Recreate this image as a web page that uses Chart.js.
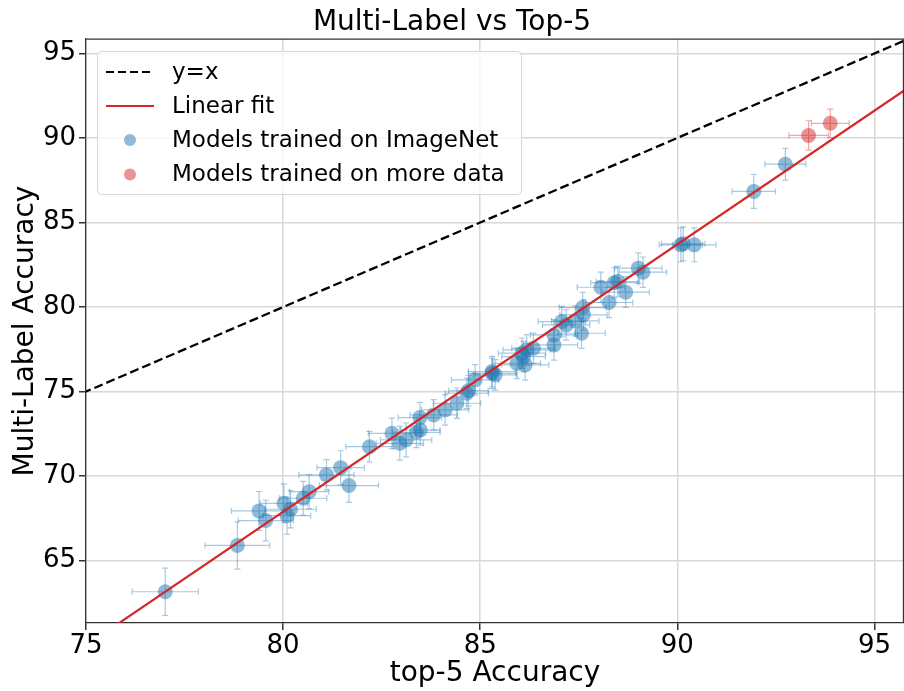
<!DOCTYPE html>
<html>
<head>
<meta charset="utf-8">
<title>Multi-Label vs Top-5</title>
<script src="https://cdn.jsdelivr.net/npm/chart.js@4.4.1/dist/chart.umd.min.js"></script>
<style>
  html, body { margin: 0; padding: 0; background: #fff; }
  #wrap { width: 904px; height: 691px; }
</style>
</head>
<body>
<div id="wrap"><canvas id="myChart"></canvas></div>
<script>
/* data */
const imagenetTop5 = [77.01, 78.84, 79.39, 79.56, 80.02, 80.19, 80.10, 80.51, 80.66, 81.10,
    81.46, 81.67, 82.19, 82.76, 82.96, 83.12, 83.38, 83.48, 83.47, 83.82,
    84.11, 84.41, 84.66, 84.70, 84.87, 85.30, 85.38, 85.30, 85.93, 86.06,
    86.10, 86.14, 86.18, 86.35, 86.87, 86.87, 87.07, 87.18, 87.41, 87.57,
    87.60, 87.62, 88.06, 88.27, 88.40, 88.49, 88.69, 89.01, 89.13, 90.09,
    90.15, 90.43, 91.94, 92.74];
const imagenetMulti = [63.16, 65.90, 67.94, 67.37, 68.39, 68.04, 67.66, 68.69, 69.08, 70.07,
    70.50, 69.44, 71.74, 72.53, 71.94, 72.14, 72.59, 72.73, 73.46, 73.62,
    73.92, 74.31, 74.90, 75.05, 75.69, 76.08, 75.99, 76.18, 76.67, 77.27,
    77.07, 76.58, 77.47, 77.56, 77.76, 78.35, 79.14, 78.94, 79.18, 78.45,
    79.97, 79.54, 81.17, 80.27, 81.44, 81.51, 80.88, 82.30, 82.06, 83.68,
    83.74, 83.68, 86.84, 88.45];
const imagenetTop5Err = [0.84, 0.82, 0.70, 0.70, 0.60, 0.65, 0.60, 0.60, 0.50, 0.70,
    0.60, 0.75, 0.60, 0.60, 0.60, 0.65, 0.60, 0.50, 0.55, 0.60,
    0.60, 0.60, 0.55, 0.50, 0.60, 0.60, 0.55, 0.60, 0.60, 0.60,
    0.55, 0.60, 0.60, 0.55, 0.60, 0.60, 0.60, 0.60, 0.60, 0.60,
    0.60, 0.60, 0.60, 0.60, 0.60, 0.55, 0.60, 0.60, 0.60, 0.55,
    0.55, 0.55, 0.55, 0.52];
const imagenetMultiErr = [1.40, 1.40, 1.15, 1.20, 1.15, 1.10, 1.10, 1.00, 1.00, 0.90,
    1.00, 1.00, 0.90, 0.90, 1.00, 1.00, 0.90, 0.90, 0.90, 0.90,
    0.90, 0.90, 0.90, 0.90, 0.90, 0.90, 0.90, 0.90, 0.90, 0.90,
    0.90, 0.90, 0.90, 0.90, 0.90, 0.90, 0.90, 0.90, 0.90, 0.90,
    0.90, 0.90, 0.90, 0.90, 0.90, 0.90, 0.90, 0.90, 0.90, 1.00,
    1.00, 1.00, 1.00, 0.94];

const extraTop5 = [93.33, 93.88];
const extraMulti = [90.15, 90.87];
const extraTop5Err = [0.50, 0.48];
const extraMultiErr = [0.87, 0.84];

const diagX = [74, 97];
const fitX = [75, 96];
const fitY = [59.98, 93.20];

const xTicks = [75, 80, 85, 90, 95];
const yTicks = [65, 70, 75, 80, 85, 90, 95];
const legendLabels = ['y=x', 'Linear fit', 'Models trained on ImageNet', 'Models trained on more data'];

const FONT = '"DejaVu Sans", sans-serif';
const blue = 'rgba(31, 119, 180, 0.5)';
const blueBar = 'rgba(31, 119, 180, 0.4)';
const red = 'rgba(214, 39, 40, 0.5)';
const redBar = 'rgba(214, 39, 40, 0.4)';

/* error bars */
const errorBars = {
    id: 'errorBars',
    beforeDatasetsDraw(chart) {
        const ctx = chart.ctx;
        const xs = chart.scales.x, ys = chart.scales.y;
        const area = chart.chartArea;
        ctx.save();
        ctx.beginPath();
        ctx.rect(area.left, area.top, area.right - area.left, area.bottom - area.top);
        ctx.clip();
        ctx.lineWidth = 1.2;
        chart.data.datasets.forEach(function(ds) {
            if (!ds.errX) return;
            ctx.strokeStyle = ds.barColor;
            ds.data.forEach(function(p, i) {
                const cx = xs.getPixelForValue(p.x), cy = ys.getPixelForValue(p.y);
                const x0 = xs.getPixelForValue(p.x - ds.errX[i]), x1 = xs.getPixelForValue(p.x + ds.errX[i]);
                const y0 = ys.getPixelForValue(p.y - ds.errY[i]), y1 = ys.getPixelForValue(p.y + ds.errY[i]);
                ctx.beginPath();
                ctx.moveTo(x0, cy); ctx.lineTo(x1, cy);
                ctx.moveTo(cx, y0); ctx.lineTo(cx, y1);
                ctx.moveTo(x0, cy - 3); ctx.lineTo(x0, cy + 3);
                ctx.moveTo(x1, cy - 3); ctx.lineTo(x1, cy + 3);
                ctx.moveTo(cx - 3, y0); ctx.lineTo(cx + 3, y0);
                ctx.moveTo(cx - 3, y1); ctx.lineTo(cx + 3, y1);
                ctx.stroke();
            });
        });
        ctx.restore();
    }
};

/* frame + legend box */
const frameLegend = {
    id: 'frameLegend',
    afterDraw(chart) {
        const ctx = chart.ctx;
        const a = chart.chartArea;
        ctx.save();
        ctx.strokeStyle = '#333';
        ctx.lineWidth = 1.3;
        ctx.beginPath();
        ctx.moveTo(a.left, a.top); ctx.lineTo(a.right, a.top);
        ctx.moveTo(a.right - 0.5, a.top); ctx.lineTo(a.right - 0.5, a.bottom);
        ctx.stroke();

        // legend
        const bx = 97.5, by = 51.5, bw = 424, bh = 143;
        ctx.beginPath();
        ctx.roundRect(bx, by, bw, bh, 4);
        ctx.fillStyle = 'rgba(255, 255, 255, 0.8)';
        ctx.fill();
        ctx.strokeStyle = '#d6d6d6';
        ctx.lineWidth = 1;
        ctx.stroke();

        const rowY = [72, 106, 140, 174.5];
        ctx.lineWidth = 2.2;
        ctx.strokeStyle = '#000';
        ctx.setLineDash([8, 4]);
        ctx.beginPath(); ctx.moveTo(106, rowY[0]); ctx.lineTo(154, rowY[0]); ctx.stroke();
        ctx.setLineDash([]);
        ctx.strokeStyle = '#d62728';
        ctx.lineWidth = 2;
        ctx.beginPath(); ctx.moveTo(106, rowY[1]); ctx.lineTo(154, rowY[1]); ctx.stroke();
        ctx.fillStyle = blue;
        ctx.beginPath(); ctx.arc(130, rowY[2], 6, 0, Math.PI * 2); ctx.fill();
        ctx.fillStyle = red;
        ctx.beginPath(); ctx.arc(130, rowY[3], 6, 0, Math.PI * 2); ctx.fill();

        ctx.fillStyle = '#000';
        ctx.font = '23px ' + FONT;
        ctx.textBaseline = 'middle';
        ctx.textAlign = 'left';
        legendLabels.forEach(function(t, i) { ctx.fillText(t, 172, rowY[i] + 1); });
        ctx.restore();
    }
};

const ctx = document.getElementById('myChart');
const myChart = new Chart(ctx, {
    type: 'scatter',
    data: {
        datasets: [{
            label: legendLabels[1],
            data: fitX.map(function(v, i) { return {x: v, y: fitY[i]}; }),
            showLine: true,
            borderColor: '#d62728',
            borderWidth: 2.2,
            pointRadius: 0,
            order: 0
        }, {
            label: legendLabels[0],
            data: diagX.map(function(v) { return {x: v, y: v}; }),
            showLine: true,
            borderColor: '#000',
            borderWidth: 2.3,
            borderDash: [9, 4],
            pointRadius: 0,
            order: 1
        }, {
            label: legendLabels[3],
            data: extraTop5.map(function(v, i) { return {x: v, y: extraMulti[i]}; }),
            errX: extraTop5Err,
            errY: extraMultiErr,
            barColor: redBar,
            backgroundColor: red,
            borderWidth: 0,
            pointRadius: 7.5,
            order: 2
        }, {
            label: legendLabels[2],
            data: imagenetTop5.map(function(v, i) { return {x: v, y: imagenetMulti[i]}; }),
            errX: imagenetTop5Err,
            errY: imagenetMultiErr,
            barColor: blueBar,
            backgroundColor: blue,
            borderWidth: 0,
            pointRadius: 7.5,
            order: 3
        }]
    },
    options: {
        responsive: true,
        maintainAspectRatio: false,
        animation: false,
        devicePixelRatio: 1,
        layout: { autoPadding: false, padding: { left: 0, right: 0, top: 0, bottom: 0 } },
        plugins: {
            legend: { display: false },
            tooltip: { enabled: false },
            title: {
                display: true,
                text: 'Multi-Label vs Top-5',
                color: '#000',
                font: { family: FONT, size: 28, weight: 'normal' },
                padding: { top: 5.5, bottom: 0 }
            }
        },
        scales: {
            x: {
                type: 'linear',
                min: 75,
                max: 95.75,
                afterBuildTicks: function(s) { s.ticks = xTicks.map(function(v) { return {value: v}; }); },
                afterFit: function(s) { s.height = 68; s.paddingLeft = 0; s.paddingRight = 0; },
                ticks: { color: '#000', font: { family: FONT, size: 26 }, padding: 1, maxRotation: 0 },
                grid: { color: '#d8d8d8', lineWidth: 1.5, tickColor: '#333', tickLength: 7 },
                border: { color: '#333', width: 1.3 },
                title: {
                    display: true,
                    text: 'top-5 Accuracy',
                    color: '#000',
                    font: { family: FONT, size: 28 },
                    padding: { top: 0, bottom: 0 }
                }
            },
            y: {
                type: 'linear',
                min: 61.31,
                max: 95.85,
                afterBuildTicks: function(s) { s.ticks = yTicks.map(function(v) { return {value: v}; }); },
                afterFit: function(s) { s.width = 86; s.paddingTop = 0; s.paddingBottom = 0; },
                ticks: { color: '#000', font: { family: FONT, size: 26 }, padding: 3 },
                grid: { color: '#d8d8d8', lineWidth: 1.5, tickColor: '#333', tickLength: 7 },
                border: { color: '#333', width: 1.3 },
                title: {
                    display: true,
                    text: 'Multi-Label Accuracy',
                    color: '#000',
                    font: { family: FONT, size: 28 },
                    padding: { top: 9, bottom: 0 }
                }
            }
        }
    },
    plugins: [errorBars, frameLegend]
});
</script>
</body>
</html>
